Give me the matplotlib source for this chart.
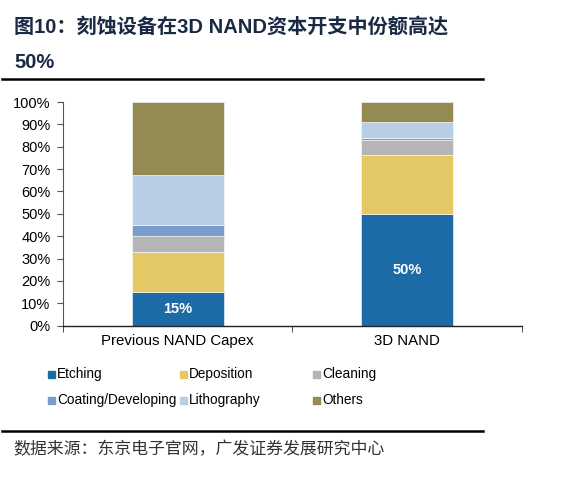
import matplotlib

matplotlib.use("Agg")
import matplotlib.pyplot as plt
from matplotlib.lines import Line2D
import numpy as np

plt.rcParams["font.family"] = ["Liberation Sans", "Noto Sans CJK SC", "DejaVu Sans"]

CATEGORIES = ["Previous NAND Capex", "3D NAND"]
SEGMENTS = ["Etching", "Deposition", "Cleaning", "Coating/Developing", "Lithography", "Others"]
ETCHING = [15.0, 50.0]
DEPOSITION = [18.0, 26.5]
CLEANING = [7.0, 6.5]
COATING = [4.8, 0.9]
LITHOGRAPHY = [22.7, 7.0]
OTHERS = [32.5, 9.1]
BAR_LABELS = ["15%", "50%"]
YTICKS = list(range(0, 101, 10))

COLORS = {
    "Etching": "#1C6BA6",
    "Deposition": "#E5C866",
    "Cleaning": "#B5B5B5",
    "Coating/Developing": "#7A9CC9",
    "Lithography": "#B9CDE4",
    "Others": "#948A54",
}

TITLE_1 = "图10：刻蚀设备在3D NAND资本开支中份额高达"
TITLE_2 = "50%"
SOURCE = "数据来源：东京电子官网，广发证券发展研究中心"


def main() -> None:
    fig = plt.figure(figsize=(5.83, 4.78), dpi=100)
    ax = fig.add_axes([0.108, 0.3186, 0.787, 0.468])

    series = [ETCHING, DEPOSITION, CLEANING, COATING, LITHOGRAPHY, OTHERS]
    x = np.arange(len(CATEGORIES))
    bottom = np.zeros(len(CATEGORIES))
    for name, vals in zip(SEGMENTS, series):
        ax.bar(x, vals, width=0.4, bottom=bottom, color=COLORS[name],
               edgecolor="white", linewidth=0.4, label=name)
        bottom += np.array(vals)

    for xi, val, lab in zip(x, ETCHING, BAR_LABELS):
        ax.text(xi, val / 2, lab, ha="center", va="center", color="white",
                fontsize=10.5, fontweight="bold")

    ax.set_xlim(-0.5, 1.5)
    ax.set_ylim(0, 100)
    ax.set_yticks(YTICKS)
    ax.set_yticklabels([f"{t}%" for t in YTICKS], fontsize=10.5)
    ax.set_xticks(x)
    ax.set_xticklabels(CATEGORIES, fontsize=10.8)
    ax.tick_params(axis="x", length=0, pad=6)
    ax.set_xticks([-0.5, 0.5, 1.5], minor=True)
    ax.tick_params(axis="x", which="minor", length=4, direction="out", color="#333333")
    ax.tick_params(axis="y", length=4, direction="out", color="#555555", pad=5)
    for side in ("top", "right"):
        ax.spines[side].set_visible(False)
    ax.spines["left"].set_color("#555555")
    ax.spines["left"].set_linewidth(0.8)
    ax.spines["bottom"].set_color("#222222")
    ax.spines["bottom"].set_linewidth(1.0)

    # legend: three columns, two rows
    col_x = [51, 183, 316]
    row_y = [374, 400]
    W, H = 583.0, 478.0
    for i, name in enumerate(SEGMENTS):
        cx = col_x[i % 3] / W
        cy = 1 - row_y[i // 3] / H
        fig.patches.append(plt.Rectangle((cx - 3.5 / W, cy - 3.5 / H), 7 / W, 7 / H,
                                         transform=fig.transFigure,
                                         color=COLORS[name]))
        fig.text(cx + 6 / W, cy, name, fontsize=9.8, va="center", ha="left")

    # title and rules
    title_color = "#1A2A44"
    fig.text(14 / W, 1 - 27 / H, TITLE_1, fontsize=14.5, fontweight="bold",
             color=title_color, va="center", ha="left",
             family=["Liberation Sans", "Noto Sans CJK SC"])
    fig.text(14 / W, 1 - 62 / H, TITLE_2, fontsize=14.5, fontweight="bold",
             color=title_color, va="center", ha="left",
             family=["Liberation Sans", "Noto Sans CJK SC"])
    fig.add_artist(Line2D([2 / W, 483 / W], [1 - 78.5 / H, 1 - 78.5 / H],
                          color="black", linewidth=1.8, transform=fig.transFigure))
    fig.add_artist(Line2D([2 / W, 483 / W], [1 - 430.5 / H, 1 - 430.5 / H],
                          color="black", linewidth=1.8, transform=fig.transFigure))
    fig.text(13 / W, 1 - 449 / H, SOURCE, fontsize=12.2, color="#333333",
             va="center", ha="left", family=["Noto Sans CJK SC"])

    fig.savefig("out.png", dpi=100)
    plt.close(fig)


if __name__ == "__main__":
    main()
